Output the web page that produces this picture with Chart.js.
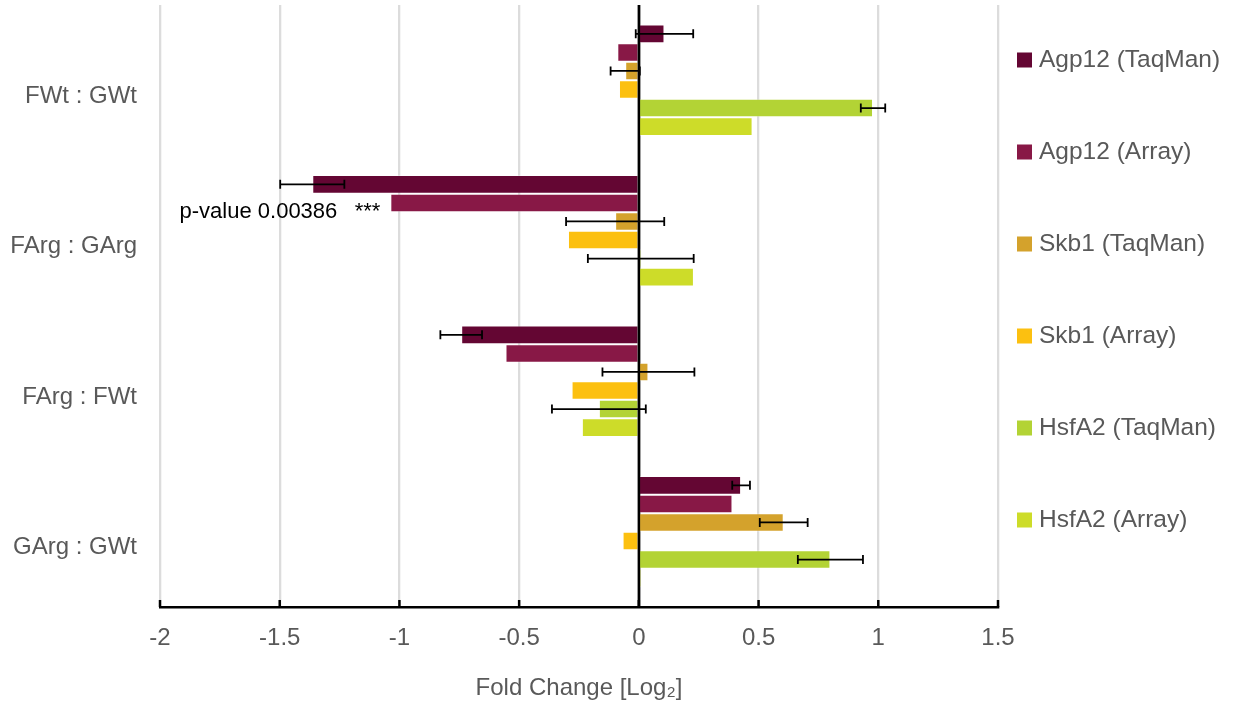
<!DOCTYPE html>
<html>
<head>
    <title>Fold Change</title>
    <script src="https://cdn.jsdelivr.net/npm/chart.js"></script>
    <style>
        body { margin: 0; background: #fff; }
        #wrap { width: 1233px; height: 704px; }
    </style>
</head>
<body>
    <div id="wrap"><canvas id="foldChart"></canvas></div>
    <script>
        // comparisons (top to bottom)
        const categories = ['FWt : GWt', 'FArg : GArg', 'FArg : FWt', 'GArg : GWt'];
        const xTicks = [-2, -1.5, -1, -0.5, 0, 0.5, 1, 1.5];

        // log2 fold change per series
        const agp12TaqMan = [0.107, -1.364, -0.742, 0.427];
        const agp12Array  = [-0.09, -1.038, -0.557, 0.391];
        const skb1TaqMan  = [-0.057, -0.099, 0.04, 0.605];
        const skb1Array   = [-0.083, -0.296, -0.281, -0.068];
        const hsfA2TaqMan = [0.978, 0.008, -0.167, 0.80];
        const hsfA2Array  = [0.475, 0.23, -0.238, 0.008];

        // error (+/-) for the TaqMan series
        const agp12TaqManErr = [0.12, 0.134, 0.087, 0.037];
        const skb1TaqManErr  = [0.061, 0.205, 0.192, 0.1];
        const hsfA2TaqManErr = [0.051, 0.221, 0.196, 0.136];

        const pValueNote = 'p-value 0.00386';
        const FONT = '"Liberation Sans", Arial, Helvetica, sans-serif';
        const GREY = '#595959';

        function ds(label, data, color, err) {
            return {
                label: label,
                data: data,
                err: err,
                backgroundColor: color,
                borderColor: 'rgba(255,255,255,0.35)',
                borderWidth: 1,
                categoryPercentage: 0.74,
                barPercentage: 1.0
            };
        }

        const errorBars = {
            id: 'errorBars',
            afterDatasetsDraw(chart) {
                const ctx = chart.ctx;
                const xs = chart.scales.x;
                ctx.save();
                ctx.strokeStyle = '#000';
                ctx.lineWidth = 1.8;
                chart.data.datasets.forEach((d, i) => {
                    if (!d.err) return;
                    chart.getDatasetMeta(i).data.forEach((bar, j) => {
                        const v = d.data[j], e = d.err[j];
                        const x1 = xs.getPixelForValue(v - e);
                        const x2 = xs.getPixelForValue(v + e);
                        const y = bar.y;
                        ctx.beginPath();
                        ctx.moveTo(x1, y); ctx.lineTo(x2, y);
                        ctx.moveTo(x1, y - 4.5); ctx.lineTo(x1, y + 4.5);
                        ctx.moveTo(x2, y - 4.5); ctx.lineTo(x2, y + 4.5);
                        ctx.stroke();
                    });
                });
                // zero line over the bars
                const area = chart.chartArea;
                const x0 = xs.getPixelForValue(0);
                ctx.lineWidth = 2.5;
                ctx.beginPath();
                ctx.moveTo(x0, area.top);
                ctx.lineTo(x0, area.bottom);
                ctx.stroke();
                // small tick marks pointing up from the axis
                xs.ticks.forEach(t => {
                    const px = xs.getPixelForValue(t.value);
                    ctx.beginPath();
                    ctx.moveTo(px, area.bottom);
                    ctx.lineTo(px, area.bottom - 7);
                    ctx.stroke();
                });
                // p-value note next to Agp12 (Array) for FArg : GArg
                const bar = chart.getDatasetMeta(1).data[1];
                ctx.fillStyle = '#000';
                ctx.font = '22px ' + FONT;
                ctx.textAlign = 'right';
                ctx.textBaseline = 'middle';
                ctx.fillText('***', bar.x - 10, bar.y + 9);
                ctx.fillText(pValueNote, bar.x - 53, bar.y + 9);
                ctx.restore();
            }
        };

        const sideLegend = {
            id: 'sideLegend',
            afterDraw(chart) {
                const ctx = chart.ctx;
                ctx.save();
                ctx.font = '24.5px ' + FONT;
                ctx.textBaseline = 'middle';
                ctx.textAlign = 'left';
                chart.data.datasets.forEach((d, i) => {
                    const y = 60 + i * 92;
                    ctx.fillStyle = d.backgroundColor;
                    ctx.fillRect(1017, y - 7.5, 15, 15);
                    ctx.fillStyle = GREY;
                    ctx.fillText(d.label, 1039, y);
                });
                ctx.restore();
            }
        };

        const ctx = document.getElementById('foldChart').getContext('2d');
        const chart = new Chart(ctx, {
            type: 'bar',
            data: {
                labels: categories,
                datasets: [
                    ds('Agp12 (TaqMan)', agp12TaqMan, '#640633', agp12TaqManErr),
                    ds('Agp12 (Array)', agp12Array, '#881846'),
                    ds('Skb1 (TaqMan)', skb1TaqMan, '#d4a22c', skb1TaqManErr),
                    ds('Skb1 (Array)', skb1Array, '#fcc010'),
                    ds('HsfA2 (TaqMan)', hsfA2TaqMan, '#b3d335', hsfA2TaqManErr),
                    ds('HsfA2 (Array)', hsfA2Array, '#cddc29')
                ]
            },
            options: {
                indexAxis: 'y',
                responsive: true,
                maintainAspectRatio: false,
                animation: false,
                layout: { padding: { top: 5, right: 235, left: 0, bottom: 0 } },
                plugins: {
                    legend: { display: false },
                    tooltip: { enabled: false }
                },
                scales: {
                    x: {
                        min: -2,
                        max: 1.5,
                        afterBuildTicks: (scale) => {
                            scale.ticks = xTicks.map(v => ({ value: v }));
                        },
                        afterFit: (scale) => { scale.height = 97; },
                        grid: {
                            drawTicks: false,
                            color: (c) => c.tick && c.tick.value === 0 ? '#000' : '#dcdcdc',
                            lineWidth: 2.3
                        },
                        border: { display: true, color: '#000', width: 2.5 },
                        ticks: {
                            padding: 17,
                            color: GREY,
                            font: { family: FONT, size: 24 },
                            callback: (v) => String(v)
                        },
                        title: {
                            display: true,
                            text: 'Fold Change [Log₂]',
                            color: GREY,
                            font: { family: FONT, size: 24 },
                            padding: { top: 0, bottom: 1 }
                        }
                    },
                    y: {
                        afterFit: (scale) => {
                            scale.width = 160;
                            scale.paddingTop = 0;
                            scale.paddingBottom = 0;
                        },
                        grid: { display: false },
                        border: { display: false },
                        ticks: {
                            padding: 15,
                            labelOffset: 16,
                            color: GREY,
                            font: { family: FONT, size: 24 }
                        }
                    }
                }
            },
            plugins: [errorBars, sideLegend]
        });
    </script>
</body>
</html>
